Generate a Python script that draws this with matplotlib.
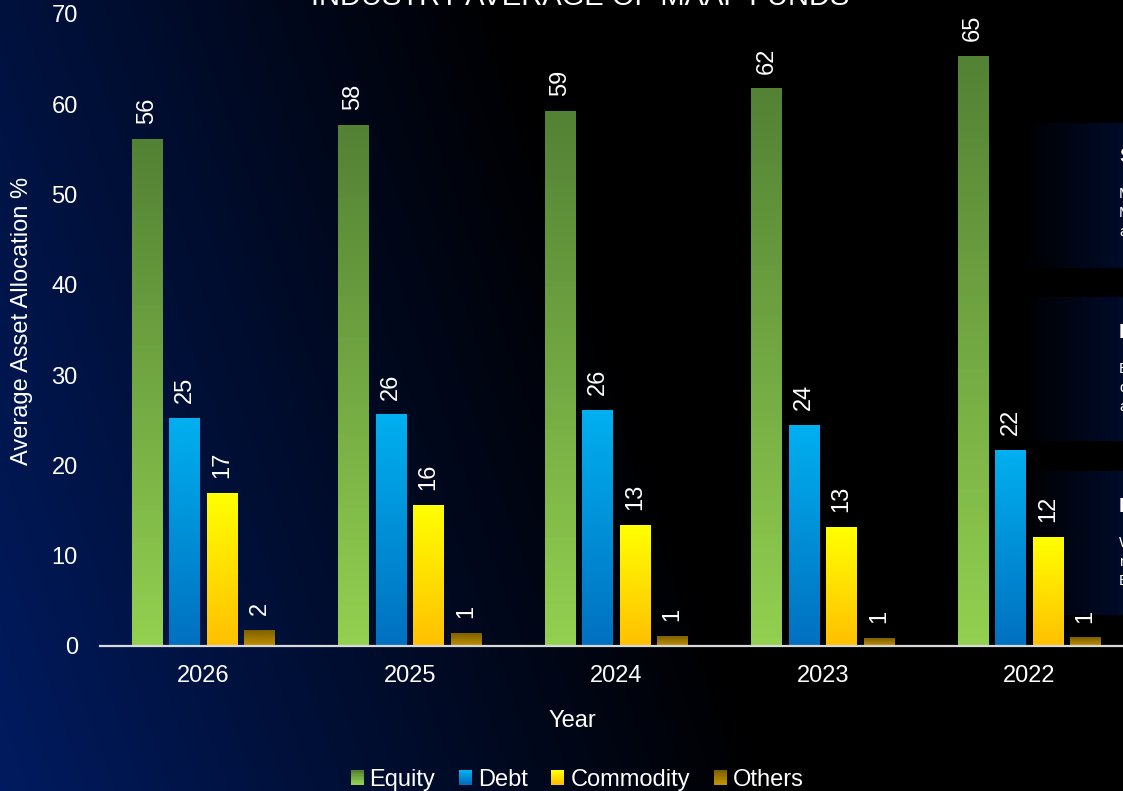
import numpy as np
import matplotlib
matplotlib.use('Agg')
import matplotlib.pyplot as plt
from matplotlib.colors import to_rgb
from matplotlib.legend_handler import HandlerBase
from matplotlib.patches import Rectangle

plt.rcParams['font.family'] = ['Liberation Sans', 'DejaVu Sans']

# values
years = ['2026', '2025', '2024', '2023', '2022']
equity = [56.1, 57.7, 59.2, 61.7, 65.3]
debt = [25.2, 25.6, 26.1, 24.4, 21.7]
commodity = [16.9, 15.6, 13.4, 13.1, 12.0]
others = [1.7, 1.4, 1.1, 0.8, 0.9]
series_names = ['Equity', 'Debt', 'Commodity', 'Others']
series_values = [equity, debt, commodity, others]
# (top colour, bottom colour) of each series gradient
grad_colors = [('#548235', '#92D050'), ('#00B0F0', '#0070C0'),
               ('#FFFF00', '#FFC000'), ('#7F6000', '#BF9000')]

W, H = 1123, 791
fs = 17


def gradient(top, bottom, n=64):
    t = np.linspace(0, 1, n)[:, None, None]
    return np.array(to_rgb(top))[None, None, :] * (1 - t) + np.array(to_rgb(bottom))[None, None, :] * t


class GradientHandler(HandlerBase):
    def __init__(self, top, bottom):
        super().__init__()
        self.top = np.array(to_rgb(top))
        self.bottom = np.array(to_rgb(bottom))

    def create_artists(self, legend, orig_handle, xdescent, ydescent, width, height, fontsize, trans):
        n = 10
        arts = []
        for k in range(n):
            f = k / (n - 1)
            c = self.top * (1 - f) + self.bottom * f
            arts.append(Rectangle((-xdescent, -ydescent + height * (n - 1 - k) / n), width, height / n + 0.3,
                                  facecolor=c, edgecolor='none', transform=trans))
        return arts


fig = plt.figure(figsize=(W / 100, H / 100), dpi=100)

# slide background: navy in the lower left fading to black, plus the clipped side panels
yy, xx = np.mgrid[0:H, 0:W]
xn = xx / W
yt = yy / H
s = np.clip(1 - 1.45 * xn - 0.35 * (1 - yt), 0, 1)
panel_s = np.clip((xx - 1020) / 100, 0, 1) * 0.42
for y0, y1 in [(123, 268), (297, 441), (471, 615)]:
    s[y0:y1] = np.maximum(s[y0:y1], panel_s[y0:y1])
navy = np.array([0, 27, 96]) / 255
bg = s[:, :, None] * navy[None, None, :]
bgax = fig.add_axes([0, 0, 1, 1], zorder=-1)
bgax.imshow(bg, aspect='auto', extent=[0, 1, 0, 1])
bgax.axis('off')

ax = fig.add_axes([100 / W, 1 - 646 / H, 1032.5 / W, 632 / H])
ax.set_facecolor('none')

x = np.arange(len(years))
step = 0.1816
width = 0.15
for i, (name, vals) in enumerate(zip(series_names, series_values)):
    pos = x + (i - 1.5) * step
    bars = ax.bar(pos, vals, width, color='none', edgecolor='none', label=name)
    top, bottom = grad_colors[i]
    for p, v in zip(pos, vals):
        ax.imshow(gradient(top, bottom), extent=[p - width / 2, p + width / 2, 0, v],
                  aspect='auto', zorder=2)
    ax.bar_label(bars, labels=[f'{v:.0f}' for v in vals], rotation=90, padding=11,
                 color='white', fontsize=fs)

ax.set_xlim(-0.5, 4.5)
ax.set_ylim(0, 70)
ax.set_xticks(x, years)
ax.set_yticks(range(0, 71, 10))
ax.tick_params(axis='both', length=0, colors='white', labelsize=fs)
ax.tick_params(axis='x', pad=14)
ax.tick_params(axis='y', pad=16)
for sp in ['left', 'top', 'right']:
    ax.spines[sp].set_visible(False)
ax.spines['bottom'].set_color('#D9D9D9')
ax.spines['bottom'].set_linewidth(1.6)
ax.spines['bottom'].set_zorder(3)

fig.text(22 / W, 1 - 321 / H, 'Average Asset Allocation %', rotation=90, ha='center', va='center',
         color='white', fontsize=fs)
fig.text(572 / W, 1 - 721 / H, 'Year', ha='center', va='center', color='white', fontsize=fs)
fig.text(580 / W, 1 - 5 / H, 'INDUSTRY AVERAGE OF MAAF FUNDS', ha='center', va='baseline',
         color='white', fontsize=21)

# cut-off text boxes on the right edge of the slide
panel_text = [(157, 'Shift', ['More', 'Market', 'as']), (332, 'Debt', ['Equity', 'debt', 'as']),
              (506, 'Equity', ['With', 'more', 'Better'])]
for yc, head, lines in panel_text:
    fig.text(1119 / W, 1 - yc / H, head, ha='left', va='center', color='white', fontsize=15,
             fontweight='bold')
    for k, ln in enumerate(lines):
        fig.text(1119 / W, 1 - (yc + 37 + 19 * k) / H, ln, ha='left', va='center', color='white',
                 fontsize=11)

handles = [Rectangle((0, 0), 1, 1) for _ in series_names]
hmap = {h: GradientHandler(*c) for h, c in zip(handles, grad_colors)}
fig.legend(handles, series_names, handler_map=hmap, loc='center', bbox_to_anchor=(577 / W, 1 - 780 / H),
           ncol=4, frameon=False, fontsize=fs, handlelength=0.55, handleheight=0.55,
           handletextpad=0.25, columnspacing=1.0, labelcolor='white')

fig.savefig('out.png', dpi=100)
